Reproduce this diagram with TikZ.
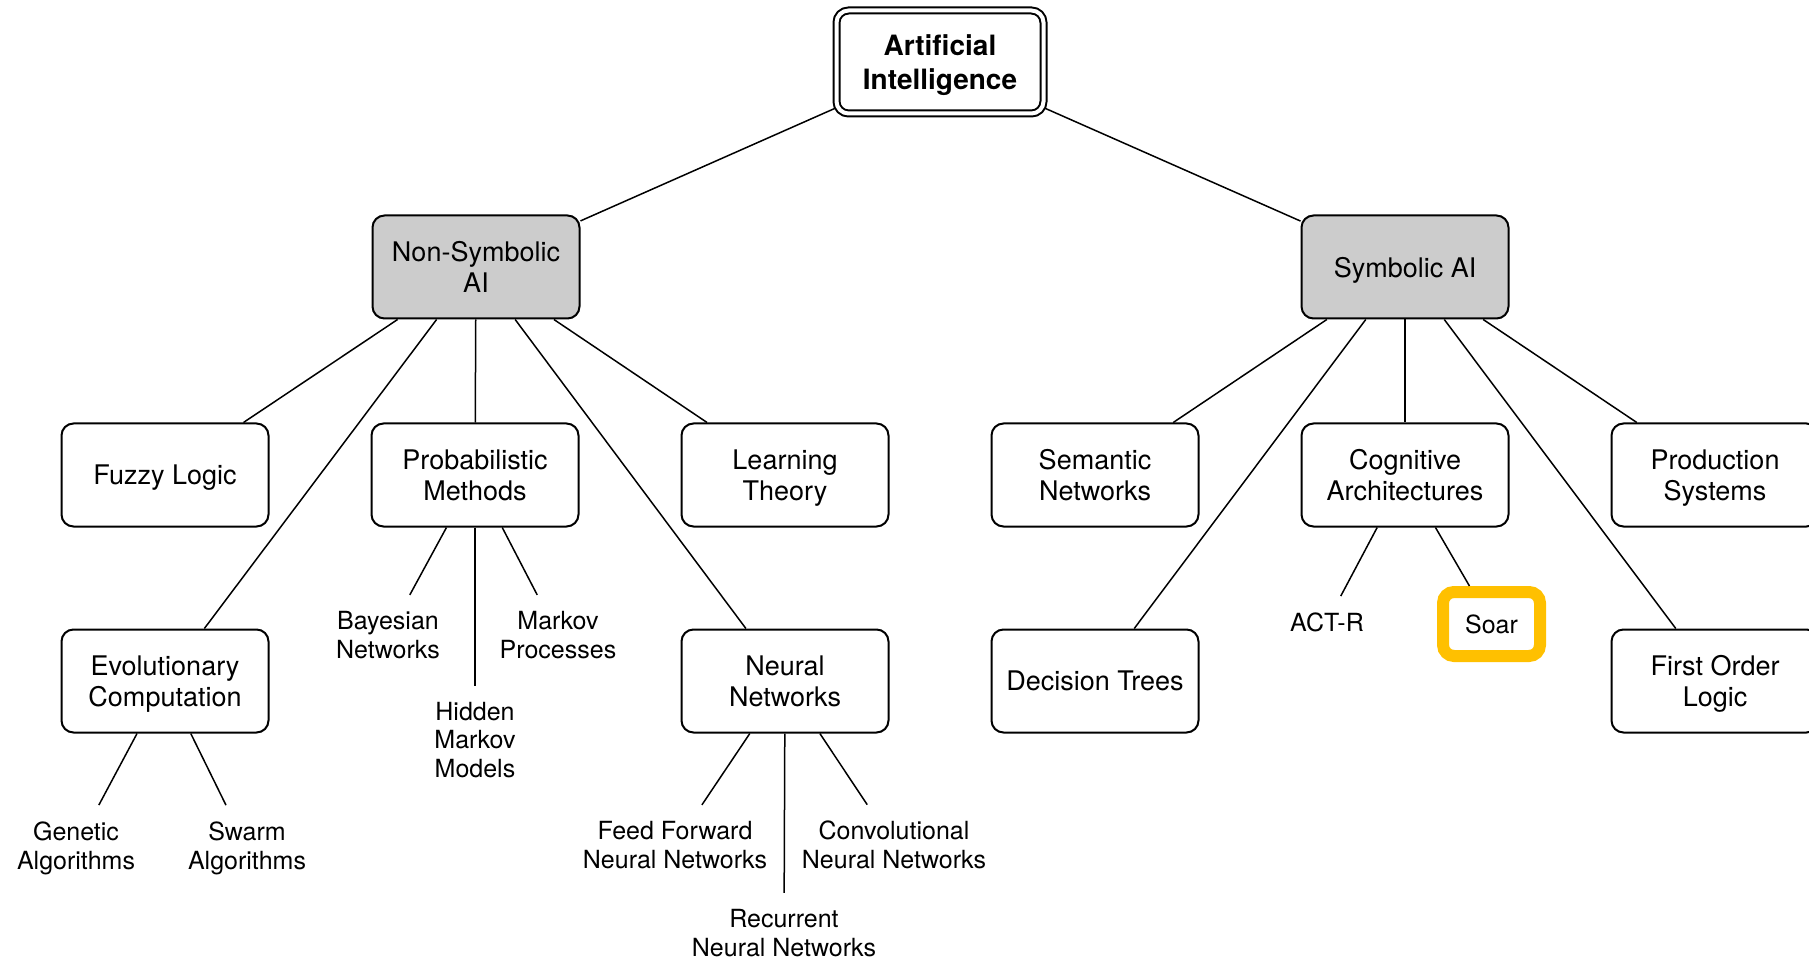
\documentclass[tikz,border=0pt]{standalone}
\usepackage{fontspec}
\setmainfont{TeX Gyre Heros}
\usepackage{tikz}

\definecolor{soarorange}{HTML}{FFC000}

\tikzset{
  box/.style={draw, line width=1pt, rounded corners=6pt, align=center,
    minimum width=103.5pt, minimum height=51.5pt, inner sep=0pt,
    text depth=0pt, font=\fontsize{13.5}{15.8}\selectfont},
  catbox/.style={box, fill=black!20},
  rootbox/.style={box, double, double distance=2pt,
    font=\fontsize{14}{17}\selectfont\bfseries},
  leaf/.style={align=center, inner xsep=2pt, inner ysep=8pt,
    font=\fontsize{12.5}{14.4}\selectfont},
  hilite/.style={draw=soarorange, line width=6pt, rounded corners=5.5pt,
    minimum width=48.5pt, minimum height=32pt, inner sep=0pt,
    font=\fontsize{12.5}{14.4}\selectfont},
  link/.style={line width=0.75pt}
}

\begin{document}
\begin{tikzpicture}[x=0.5pt, y=-0.5pt]
\useasboundingbox (0,0) rectangle (1809,962);

% root and the two branches
\node [rootbox] (ai) at (940,62) {Artificial\\Intelligence};
\node [catbox] (nonsym) at (476,267) {Non-Symbolic\\AI};
\node [catbox] (sym) at (1405,267) {Symbolic AI};

% second row
\node [box] (fuzzy) at (165,475) {Fuzzy Logic};
\node [box] (prob) at (475,475) {Probabilistic\\Methods};
\node [box] (learn) at (785,475) {Learning\\Theory};
\node [box] (semnet) at (1095,475) {Semantic\\Networks};
\node [box] (cogarch) at (1405,475) {Cognitive\\Architectures};
\node [box] (prodsys) at (1715,475) {Production\\Systems};

% third row
\node [box] (evo) at (165,681) {Evolutionary\\Computation};
\node [box] (neural) at (785,681) {Neural\\Networks};
\node [box] (dtree) at (1095,681) {Decision Trees};
\node [box] (fol) at (1715,681) {First Order\\Logic};

% leaves
\node [leaf] (bayes) at (388,635) {Bayesian\\Networks};
\node [leaf] (markov) at (558,635) {Markov\\Processes};
\node [leaf] (hmm) at (475,740) {Hidden\\Markov\\Models};
\node [leaf] (genetic) at (76,848) {Genetic\\Algorithms};
\node [leaf] (swarm) at (247,848) {Swarm\\Algorithms};
\node [leaf] (ffnn) at (675,845) {Feed Forward\\Neural Networks};
\node [leaf] (cnn) at (894,845) {Convolutional\\Neural Networks};
\node [leaf] (rnn) at (784,933) {Recurrent\\Neural Networks};
\node [leaf] (actr) at (1327,622) {ACT-R};
\node [hilite] (soar) at (1491.5,624) {Soar};

% connectors
\draw [link] (ai) -- (nonsym);
\draw [link] (ai) -- (sym);

\draw [link] (nonsym) -- (fuzzy);
\draw [link] (nonsym) -- (evo);
\draw [link] (nonsym) -- (prob);
\draw [link] (nonsym) -- (neural);
\draw [link] (nonsym) -- (learn);

\draw [link] (sym) -- (semnet);
\draw [link] (sym) -- (dtree);
\draw [link] (sym) -- (cogarch);
\draw [link] (sym) -- (fol);
\draw [link] (sym) -- (prodsys);

\draw [link] (prob) -- (bayes);
\draw [link] (prob) -- (hmm);
\draw [link] (prob) -- (markov);

\draw [link] (evo) -- (genetic);
\draw [link] (evo) -- (swarm);

\draw [link] (neural) -- (ffnn);
\draw [link] (neural) -- (rnn);
\draw [link] (neural) -- (cnn);

\draw [link] (cogarch) -- (actr);
\draw [link] (cogarch) -- (soar);

\end{tikzpicture}
\end{document}
